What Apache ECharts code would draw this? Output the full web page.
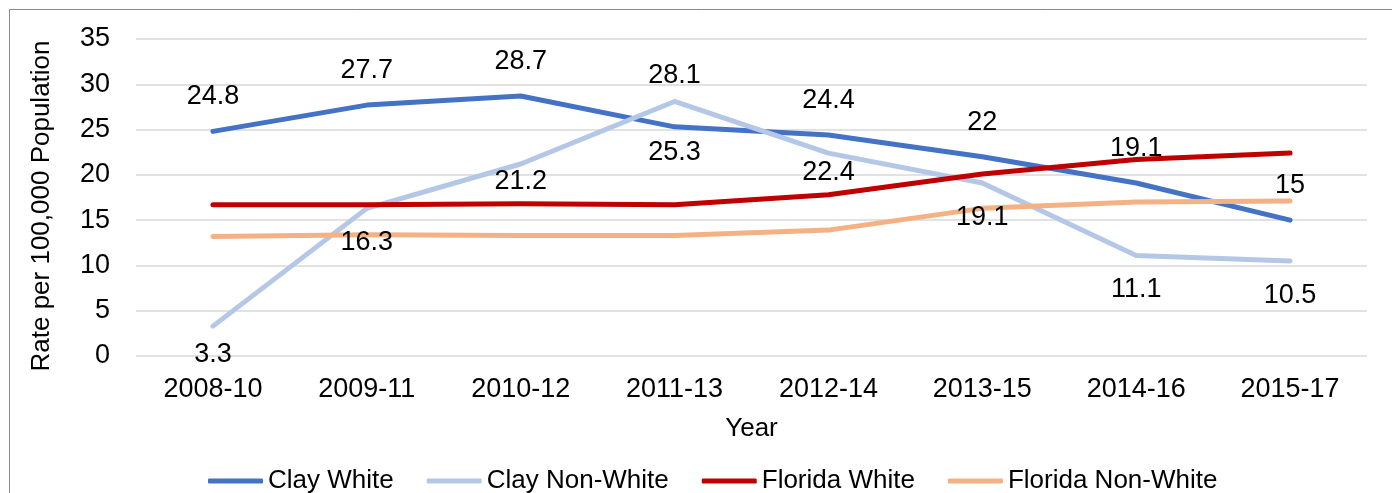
<!DOCTYPE html>
<html>
<head>
<meta charset="utf-8">
<script src="https://cdn.jsdelivr.net/npm/echarts@6/dist/echarts.min.js"></script>
<style>
  html, body { margin: 0; padding: 0; background: #fff; }
  #chart { width: 1392px; height: 493px; }
</style>
</head>
<body>
<div id="chart"></div>
<script>
// Three-year periods on the category axis
const years = ['2008-10', '2009-11', '2010-12', '2011-13', '2012-14', '2013-15', '2014-16', '2015-17'];

// Rates per 100,000 population
const clayWhite = [24.8, 27.7, 28.7, 25.3, 24.4, 22, 19.1, 15];
const clayNonWhite = [3.3, 16.3, 21.2, 28.1, 22.4, 19.1, 11.1, 10.5];
const floridaWhite = [16.7, 16.7, 16.8, 16.7, 17.8, 20.1, 21.7, 22.4];
const floridaNonWhite = [13.2, 13.4, 13.3, 13.3, 13.9, 16.3, 17.0, 17.1];

const seriesNames = ['Clay White', 'Clay Non-White', 'Florida White', 'Florida Non-White'];
const seriesColors = ['#4472C4', '#B4C7E7', '#C00000', '#F4B183'];

// Label placement per point: [position, distance]
const clayWhiteLabelPos = [['top', 21], ['top', 21], ['top', 21], ['bottom', 12], ['top', 21], ['top', 21], ['top', 21], ['top', 21]];
const clayNonWhiteLabelPos = [['bottom', 15], ['bottom', 21], ['bottom', 4], ['top', 12], ['bottom', 6], ['bottom', 21], ['bottom', 21], ['bottom', 21]];

const FONT = '"Liberation Sans", Arial, sans-serif';

function labelled(values, placement) {
  return values.map((v, i) => ({
    value: v,
    label: { show: true, position: placement[i][0], distance: placement[i][1] }
  }));
}

function lineSeries(name, color, data) {
  return {
    name: name,
    type: 'line',
    data: data,
    symbol: 'circle',
    symbolSize: 0,
    itemStyle: { color: color },
    lineStyle: { color: color, width: 5, cap: 'round', join: 'round' },
    label: { show: false, color: '#000', fontFamily: FONT, fontSize: 27 },
    emphasis: { disabled: true },
    animation: false
  };
}

const chart = echarts.init(document.getElementById('chart'), null, { renderer: 'canvas' });

chart.setOption({
  backgroundColor: '#fff',
  animation: false,
  textStyle: { fontFamily: FONT, color: '#000' },
  graphic: [{
    type: 'rect',
    shape: { x: 9.5, y: 9.5, width: 1400, height: 500 },
    style: { fill: 'none', stroke: '#8a8a8a', lineWidth: 1 },
    silent: true
  }],
  grid: { left: 136, right: 25, top: 39, bottom: 137 },
  legend: {
    left: 208,
    top: 468,
    padding: 0,
    icon: 'roundRect',
    itemWidth: 55,
    itemHeight: 5,
    itemGap: 33,
    textStyle: { fontFamily: FONT, fontSize: 26, color: '#000' },
    data: seriesNames
  },
  xAxis: {
    type: 'category',
    data: years,
    boundaryGap: true,
    name: 'Year',
    nameLocation: 'middle',
    nameGap: 60,
    nameTextStyle: { fontFamily: FONT, fontSize: 26, color: '#000' },
    axisLine: { show: false },
    axisTick: { show: false },
    axisLabel: { fontFamily: FONT, fontSize: 27, color: '#000', margin: 20, interval: 0 }
  },
  yAxis: {
    type: 'value',
    min: 0,
    max: 35,
    interval: 5,
    name: 'Rate per 100,000 Population',
    nameLocation: 'middle',
    nameGap: 81,
    nameTextStyle: { fontFamily: FONT, fontSize: 26, color: '#000', padding: [0, 17, 0, 0] },
    axisLine: { show: false },
    axisTick: { show: false },
    axisLabel: { fontFamily: FONT, fontSize: 27, color: '#000', margin: 26 },
    splitLine: { lineStyle: { color: '#d9d9d9', width: 1.5 } }
  },
  series: [
    lineSeries(seriesNames[0], seriesColors[0], labelled(clayWhite, clayWhiteLabelPos)),
    lineSeries(seriesNames[1], seriesColors[1], labelled(clayNonWhite, clayNonWhiteLabelPos)),
    lineSeries(seriesNames[2], seriesColors[2], floridaWhite),
    lineSeries(seriesNames[3], seriesColors[3], floridaNonWhite)
  ]
});
</script>
</body>
</html>
